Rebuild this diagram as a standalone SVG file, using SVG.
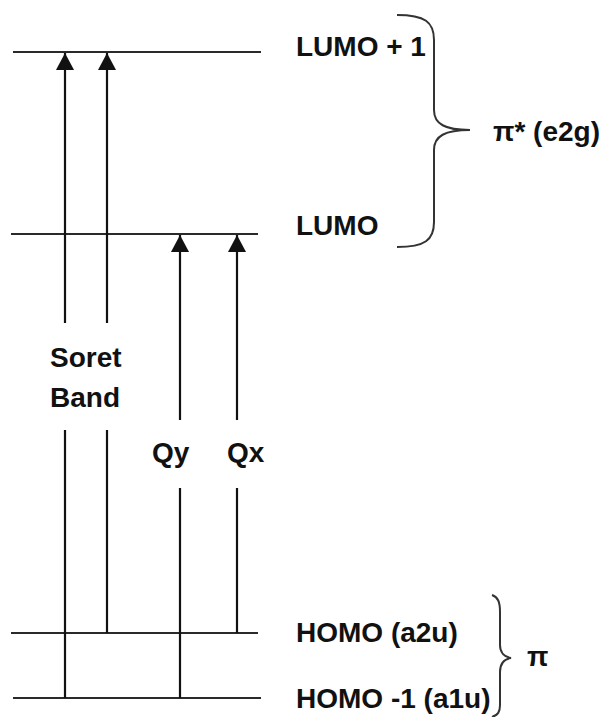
<svg xmlns="http://www.w3.org/2000/svg" width="602" height="717" viewBox="0 0 602 717">
<style>
.lvl{stroke:#2a2a2a;stroke-width:2.2;fill:none}
.conn{stroke:#111;stroke-width:2.2;fill:none}
.brace{stroke:#333;stroke-width:2;fill:none}
text{font-family:"Liberation Sans",Arial,sans-serif;font-weight:bold;font-size:28px;fill:#111}
</style>
<defs>
<marker id="ah" viewBox="0 0 17 18" refX="17" refY="9" markerWidth="17" markerHeight="18" markerUnits="userSpaceOnUse" orient="auto">
<path d="M0,0 L17,9 L0,18 Z" fill="#111"/>
</marker>
</defs>
<g id="lumo1">
<line class="lvl" x1="13" y1="52" x2="261" y2="52"/>
<text x="296" y="56">LUMO + 1</text>
</g>
<g id="lumo">
<line class="lvl" x1="11" y1="234" x2="258" y2="234"/>
<text x="296" y="235">LUMO</text>
</g>
<g id="homo">
<line class="lvl" x1="11" y1="633" x2="258" y2="633"/>
<text x="296" y="642">HOMO (a2u)</text>
</g>
<g id="homo1">
<line class="lvl" x1="13" y1="698" x2="261" y2="698"/>
<text x="296" y="708">HOMO -1 (a1u)</text>
</g>
<g id="pistar">
<path class="brace" d="M397 15 C425 15 434 22 434 40 L434 110 C434 124 445 130 470 130 C445 130 434 136 434 150 L434 222 C434 240 425 247 397 247"/>
<text x="493" y="141">π* (e2g)</text>
</g>
<g id="pi">
<path class="brace" d="M492 595 C498 597 500 602 500 612 L500 645 C500 652 504 657 511 658 C504 659 500 664 500 672 L500 705 C500 712 498 715 492 717"/>
<text x="527" y="666">π</text>
</g>
<g id="soret">
<text x="50" y="367">Soret</text>
<text x="50" y="407">Band</text>
</g>
<g id="qy"><text x="152" y="462">Qy</text></g>
<g id="qx"><text x="227" y="462">Qx</text></g>
<g id="connectors">
<line class="conn" x1="65" y1="698" x2="65" y2="430"/>
<line class="conn" x1="65" y1="323" x2="65" y2="53" marker-end="url(#ah)"/>
<line class="conn" x1="107" y1="633" x2="107" y2="430"/>
<line class="conn" x1="107" y1="323" x2="107" y2="53" marker-end="url(#ah)"/>
<line class="conn" x1="180" y1="698" x2="180" y2="488"/>
<line class="conn" x1="180" y1="420" x2="180" y2="235" marker-end="url(#ah)"/>
<line class="conn" x1="237" y1="633" x2="237" y2="488"/>
<line class="conn" x1="237" y1="420" x2="237" y2="235" marker-end="url(#ah)"/>
</g>
</svg>
